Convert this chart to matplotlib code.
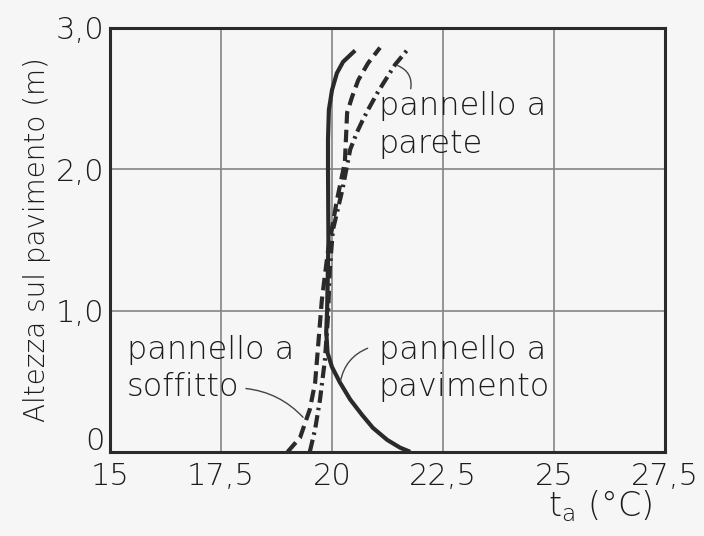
import matplotlib.pyplot as plt
from matplotlib.transforms import ScaledTranslation
import numpy as np

plt.rcParams['font.family'] = ['DejaVu Sans']
plt.rcParams['font.weight'] = 'light'

# curve points: (temperature degC, height m)
t_pavimento = [21.76, 21.53, 21.24, 20.92, 20.68, 20.41, 20.18, 20.00, 19.90, 19.87, 19.89,
               19.92, 19.91, 19.91, 19.93, 20.00, 20.11, 20.25, 20.52]
h_pavimento = [0.00, 0.03, 0.085, 0.17, 0.26, 0.37, 0.49, 0.60, 0.70, 0.85, 1.00,
               1.50, 2.00, 2.21, 2.42, 2.56, 2.68, 2.76, 2.84]

t_soffitto = [19.00, 19.28, 19.50, 19.62, 19.68, 19.77, 19.90, 20.11, 20.29, 20.34,
              20.45, 20.59, 20.81, 21.08]
h_soffitto = [0.00, 0.10, 0.30, 0.49, 0.72, 1.07, 1.40, 1.78, 2.05, 2.40,
              2.51, 2.63, 2.75, 2.86]

t_parete = [19.50, 19.62, 19.73, 19.84, 19.91, 19.95, 20.02, 20.23, 20.41, 20.56,
            20.68, 20.81, 21.04, 21.24, 21.42, 21.71]
h_parete = [0.00, 0.16, 0.37, 0.65, 0.96, 1.29, 1.57, 1.85, 2.14, 2.26,
            2.34, 2.42, 2.55, 2.65, 2.74, 2.85]

x_ticks = [15, 17.5, 20, 22.5, 25, 27.5]
x_labels = ['15', '17,5', '20', '22,5', '25', '27,5']
y_ticks = [0, 1, 2, 3]
y_labels = ['0', '1,0', '2,0', '3,0']

ink = '#2a2a2a'
textc = '#1c1c1c'
paper = '#f6f6f6'
fw = 200

fig = plt.figure(figsize=(7.04, 5.36), dpi=100, facecolor=paper)
ax = fig.add_axes([0.156, 0.157, 0.789, 0.791], facecolor=paper)

ax.plot(t_pavimento, h_pavimento, color=ink, lw=3.0, solid_capstyle='butt')
ax.plot(t_soffitto, h_soffitto, color=ink, lw=3.0, dashes=(3, 1.5))
ax.plot(t_parete, h_parete, color=ink, lw=3.0, dashes=(3, 1.2, 0.6, 1.2))

ax.set_xlim(15, 27.5)
ax.set_ylim(0, 3)
ax.set_xticks(x_ticks)
ax.set_xticklabels(x_labels, fontweight=fw)
ax.set_yticks(y_ticks)
ax.set_yticklabels(y_labels, fontweight=fw)
ax.tick_params(length=0, labelsize=22, colors=textc, pad=7)
ax.tick_params(axis='y', pad=4)
# the "0" sits a little above the corner, as in the original
zero = ax.get_yticklabels()[0]
zero.set_va('bottom')
zero.set_transform(zero.get_transform() + ScaledTranslation(0, -4 / 100, fig.dpi_scale_trans))
ax.grid(color='#858585', lw=1.2)
ax.set_axisbelow(True)
for s in ax.spines.values():
    s.set_linewidth(2.2)
    s.set_color('#2a2a2a')

ax.set_ylabel('Altezza sul pavimento (m)', fontsize=20, color=textc, labelpad=3, fontweight=fw)
fig.text(0.852, 0.036, 't$_\\mathregular{a}$ (°C)', fontsize=24, color=textc, ha='center',
         va='baseline', fontweight=fw)

txt = dict(fontsize=23, color=textc, linespacing=1.3, fontweight=fw, va='top')
ax.text(21.05, 2.55, 'pannello a\nparete', **txt)
ax.text(15.38, 0.83, 'pannello a\nsoffitto', **txt)
ax.text(21.05, 0.83, 'pannello a\npavimento', **txt)

arc = dict(arrowstyle='-', color='#444444', lw=1.0)
ax.annotate('', xy=(21.42, 2.74), xytext=(21.76, 2.55),
            arrowprops=dict(connectionstyle='arc3,rad=0.45', **arc))
ax.annotate('', xy=(19.39, 0.23), xytext=(18.0, 0.45),
            arrowprops=dict(connectionstyle='arc3,rad=-0.2', **arc))
ax.annotate('', xy=(20.18, 0.48), xytext=(20.86, 0.74),
            arrowprops=dict(connectionstyle='arc3,rad=0.3', **arc))

fig.savefig('out.png', dpi=100, facecolor=paper)
